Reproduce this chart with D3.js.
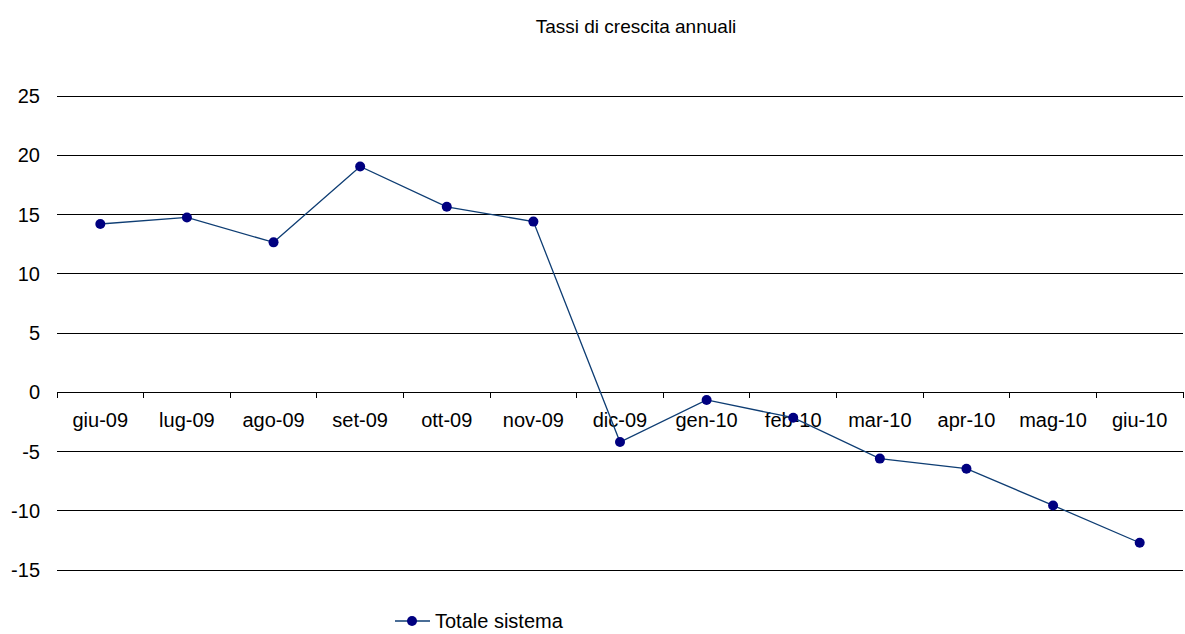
<!DOCTYPE html>
<html>
<head>
<meta charset="utf-8">
<script src="https://cdn.jsdelivr.net/npm/d3@7"></script>
<style>
  body { margin: 0; background: #fff; }
  text { font-family: "Liberation Sans", Arial, sans-serif; }
</style>
</head>
<body>
<div id="chart"></div>
<script>
var months = ["giu-09", "lug-09", "ago-09", "set-09", "ott-09", "nov-09", "dic-09",
              "gen-10", "feb-10", "mar-10", "apr-10", "mag-10", "giu-10"]
var totaleSistema = [14.2, 14.75, 12.65, 19.05, 15.65, 14.4, -4.2,
                     -0.65, -2.15, -5.6, -6.45, -9.55, -12.7]
var yTicks = [-15, -10, -5, 0, 5, 10, 15, 20, 25]

var width = 1185
var height = 634
var plotLeft = 57, plotRight = 1183, plotTop = 96, plotBottom = 570

var svg = d3.select("#chart").append("svg")
    .attr("width", width)
    .attr("height", height)

var x = d3.scaleBand().domain(months).range([plotLeft, plotRight])
var y = d3.scaleLinear().domain([-15, 25]).range([plotBottom, plotTop])

// title
svg.append("text")
    .attr("x", 636).attr("y", 33)
    .attr("text-anchor", "middle")
    .attr("font-size", 19)
    .text("Tassi di crescita annuali")

// gridlines (no vertical axis line)
svg.selectAll(".grid")
    .data(yTicks.filter(d => d !== 0))
    .enter().append("line")
    .attr("x1", plotLeft).attr("x2", plotRight)
    .attr("y1", d => y(d)).attr("y2", d => y(d))
    .attr("stroke", "#000").attr("stroke-width", 1)
    .attr("shape-rendering", "crispEdges")

svg.selectAll(".ylab")
    .data(yTicks)
    .enter().append("text")
    .attr("x", 40).attr("y", d => y(d) + 7)
    .attr("text-anchor", "end")
    .attr("font-size", 20)
    .text(d => d)

// category axis on zero
var xAxis = svg.append("g")
    .attr("transform", "translate(0," + y(0) + ")")
xAxis.append("line")
    .attr("x1", plotLeft).attr("x2", plotRight)
    .attr("stroke", "#000").attr("shape-rendering", "crispEdges")
var bounds = months.map(m => x(m)).concat([plotRight])
xAxis.selectAll(".tick")
    .data(bounds)
    .enter().append("line")
    .attr("x1", d => d).attr("x2", d => d)
    .attr("y1", 0).attr("y2", 6)
    .attr("stroke", "#000").attr("shape-rendering", "crispEdges")
xAxis.selectAll(".xlab")
    .data(months)
    .enter().append("text")
    .attr("x", d => x(d) + x.bandwidth() / 2)
    .attr("y", 35)
    .attr("text-anchor", "middle")
    .attr("font-size", 20)
    .text(d => d)

// series
var line = d3.line()
    .x((d, i) => x(months[i]) + x.bandwidth() / 2)
    .y(d => y(d))

svg.append("path")
    .datum(totaleSistema)
    .attr("d", line)
    .attr("fill", "none")
    .attr("stroke", "#0E3D73")
    .attr("stroke-width", 1.3)

svg.selectAll(".pt")
    .data(totaleSistema)
    .enter().append("circle")
    .attr("cx", (d, i) => x(months[i]) + x.bandwidth() / 2)
    .attr("cy", d => y(d))
    .attr("r", 5)
    .attr("fill", "#000080")

// legend
var lg = svg.append("g").attr("transform", "translate(395,621)")
lg.append("line").attr("x1", 0).attr("x2", 35)
    .attr("stroke", "#0E3D73").attr("stroke-width", 1.3)
lg.append("circle").attr("cx", 17).attr("r", 5).attr("fill", "#000080")
lg.append("text").attr("x", 40).attr("y", 7)
    .attr("font-size", 20)
    .text("Totale sistema")
</script>
</body>
</html>
